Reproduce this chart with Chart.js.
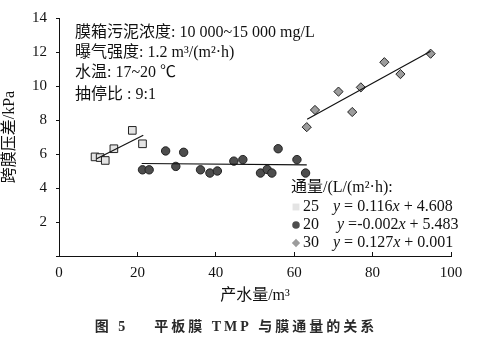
<!DOCTYPE html>
<html>
<head>
<meta charset="utf-8">
<script src="https://cdn.jsdelivr.net/npm/chart.js@4.4.0/dist/chart.umd.min.js"></script>
<style>
html, body { margin: 0; padding: 0; background: #fff; }
</style>
</head>
<body>
<canvas id="graph_tmp" width="498" height="340"></canvas>
<script>
'use strict';

const SERIF = "'Liberation Serif', 'Noto Sans CJK SC', serif";

// 产水量 (m3) 与跨膜压差 (kPa)，三种通量
const flux25X = [9.2, 10.5, 11.8, 14.0, 18.7, 21.3];
const flux25Y = [5.83, 5.79, 5.62, 6.31, 7.39, 6.60];

const flux20X = [21.3, 23.0, 27.2, 29.8, 31.8, 36.1, 38.5, 40.4, 44.6, 46.9, 51.4, 53.1, 54.3, 55.9, 60.7, 62.9];
const flux20Y = [5.07, 5.07, 6.18, 5.27, 6.10, 5.07, 4.88, 5.00, 5.58, 5.67, 4.88, 5.09, 4.88, 6.31, 5.67, 4.88];

const flux30X = [63.2, 65.3, 71.3, 74.8, 77.0, 83.0, 87.1, 94.8];
const flux30Y = [7.58, 8.59, 9.67, 8.47, 9.92, 11.4, 10.7, 11.9];

// 线性拟合 y = kx + b
const fluxNames = ['25', '20', '30'];
const fitSlope = [0.116, -0.002, 0.127];
const fitIntercept = [4.608, 5.483, 0.001];
const fitFrom = [9.6, 21.1, 63.3];
const fitTo = [21.5, 63.2, 94.8];

const xTicks = [0, 20, 40, 60, 80, 100];
const yTicks = [0, 2, 4, 6, 8, 10, 12, 14];

const noteLines = [
    '膜箱污泥浓度: 10 000~15 000 mg/L',
    '曝气强度: 1.2 m³/(m²·h)',
    '水温: 17~20 ℃',
    '抽停比 : 9:1'
];
const legendTitle = '通量/(L/(m²·h):';
const caption = '图 5    平板膜 TMP 与膜通量的关系';

const pointStyles = [
    { pointStyle: 'rect', pointRadius: 5.4, backgroundColor: '#e4e4e4' },
    { pointStyle: 'circle', pointRadius: 4.2, backgroundColor: '#4d4d4d' },
    { pointStyle: 'rectRot', pointRadius: 4.6, backgroundColor: '#9c9c9c' }
];

function toPoints(xs, ys) {
    return xs.map((x, i) => ({ x: x, y: ys[i] }));
}

function fitLine(i) {
    return [fitFrom[i], fitTo[i]].map(x => ({ x: x, y: fitSlope[i] * x + fitIntercept[i] }));
}

function eqParts(i) {
    let k = fitSlope[i].toFixed(3);
    let head = fitSlope[i] < 0 ? ' =' + k : ' = ' + k;
    return [['y', true], [head, false], ['x', true], [' + ' + fitIntercept[i].toFixed(3), false]];
}

const series = [toPoints(flux25X, flux25Y), toPoints(flux20X, flux20Y), toPoints(flux30X, flux30Y)];

let datasets = [];
series.forEach((pts, i) => {
    datasets.push({
        type: 'line',
        label: fluxNames[i] + ' fit',
        data: fitLine(i),
        borderColor: '#111',
        borderWidth: 1.2,
        pointRadius: 0,
        fill: false
    });
});
series.forEach((pts, i) => {
    datasets.push(Object.assign({
        label: fluxNames[i],
        data: pts,
        borderColor: '#222',
        borderWidth: 1,
        pointHoverRadius: 5
    }, pointStyles[i]));
});

// 图中文字说明、图例和图题
const notePlugin = {
    id: 'notes',
    afterDraw(chart) {
        const ctx = chart.ctx;
        ctx.save();
        ctx.fillStyle = '#111';
        ctx.textBaseline = 'middle';
        ctx.textAlign = 'left';
        ctx.font = '16px ' + SERIF;
        const lineY = [33, 53, 73, 95];
        noteLines.forEach((t, i) => ctx.fillText(t, 75, lineY[i]));

        // 图例
        ctx.fillText(legendTitle, 291, 188);
        const rowY = [207, 225, 243];
        const eqX = [333, 337, 333];
        series.forEach((pts, i) => {
            const st = pointStyles[i];
            ctx.fillStyle = st.backgroundColor;
            ctx.strokeStyle = '#222';
            ctx.lineWidth = 1;
            Chart.helpers.drawPoint(ctx, { pointStyle: st.pointStyle, radius: st.pointRadius * 0.9, rotation: 0 }, 296, rowY[i]);
            ctx.fillStyle = '#111';
            ctx.font = '16px ' + SERIF;
            ctx.fillText(fluxNames[i], 303, rowY[i]);
            let x = eqX[i];
            eqParts(i).forEach(p => {
                ctx.font = (p[1] ? 'italic ' : '') + '16px ' + SERIF;
                ctx.fillText(p[0], x, rowY[i]);
                x += ctx.measureText(p[0]).width;
            });
        });

        // 图题
        ctx.fillStyle = '#2a2a2a';
        ctx.textAlign = 'center';
        ctx.font = 'bold 14px ' + SERIF;
        ctx.letterSpacing = '3px';
        ctx.fillText(caption, 236, 327);
        ctx.restore();
    }
};

window.onload = function () {
    let context = document.querySelector('#graph_tmp').getContext('2d');
    new Chart(context, {
        type: 'scatter',
        data: { datasets: datasets },
        options: {
            responsive: false,
            animation: false,
            layout: { padding: { top: 15, right: 47, left: 0, bottom: 0 } },
            plugins: {
                legend: { display: false },
                tooltip: { enabled: false }
            },
            scales: {
                x: {
                    type: 'linear',
                    min: xTicks[0],
                    max: xTicks[xTicks.length - 1],
                    afterBuildTicks(scale) { scale.ticks = xTicks.map(v => ({ value: v })); },
                    ticks: { color: '#111', font: { family: SERIF, size: 15 }, padding: 12 },
                    grid: { drawOnChartArea: false, tickLength: -4, color: '#111' },
                    border: { color: '#111', width: 1 },
                    title: {
                        display: true,
                        text: '产水量/m³',
                        color: '#111',
                        font: { family: SERIF, size: 16 },
                        padding: { top: 0, bottom: 35 }
                    },
                    afterFit(scale) { scale.height = 84; }
                },
                y: {
                    type: 'linear',
                    min: yTicks[0],
                    max: yTicks[yTicks.length - 1],
                    afterBuildTicks(scale) { scale.ticks = yTicks.map(v => ({ value: v })); },
                    ticks: {
                        color: '#111',
                        font: { family: SERIF, size: 15 },
                        padding: 9,
                        callback: v => (v === 0 ? '' : v)
                    },
                    grid: { drawOnChartArea: false, tickLength: 3, color: '#111' },
                    border: { color: '#111', width: 1 },
                    title: {
                        display: true,
                        text: '跨膜压差/kPa',
                        color: '#111',
                        font: { family: SERIF, size: 16 },
                        padding: { top: 0, bottom: 0 }
                    },
                    afterFit(scale) { scale.width = 59; }
                }
            }
        },
        plugins: [notePlugin]
    });
};
</script>
</body>
</html>
